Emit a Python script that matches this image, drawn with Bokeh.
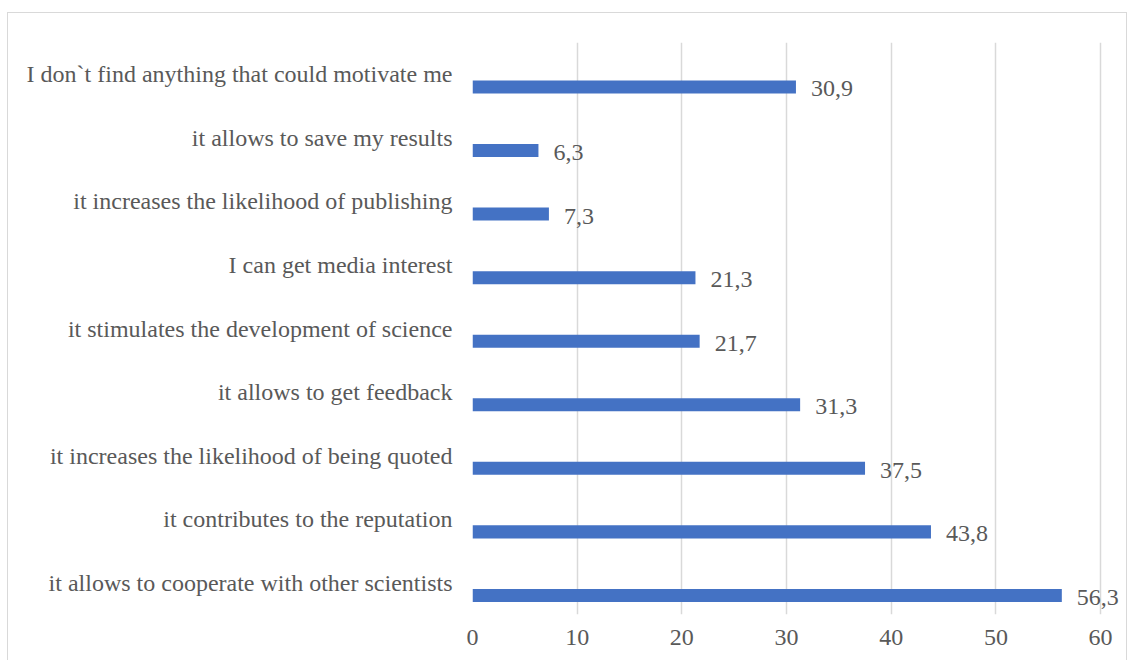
from bokeh.plotting import figure
from bokeh.models import ColumnDataSource, Range1d, FixedTicker, LabelSet
from bokeh.embed import file_html
from bokeh.resources import INLINE

categories = [
    "it allows to cooperate with other scientists",
    "it contributes to the reputation",
    "it increases the likelihood of being quoted",
    "it allows to get feedback",
    "it stimulates the development of science",
    "I can get media interest",
    "it increases the likelihood of publishing",
    "it allows to save my results",
    "I don`t find anything that could motivate me",
]
values = [56.3, 43.8, 37.5, 31.3, 21.7, 21.3, 7.3, 6.3, 30.9]
x_ticks = [0, 10, 20, 30, 40, 50, 60]

FONT = "Liberation Serif"
TXT = "#595959"

n = len(categories)
centers = [i + 0.5 for i in range(n)]
bar_y = [c - 0.2 for c in centers]
labels = [f"{v:.1f}".replace(".", ",") for v in values]

src = ColumnDataSource(dict(y=bar_y, v=values, lab=labels))

p = figure(width=1120, height=648, output_backend="svg", toolbar_location=None,
           x_range=Range1d(0, 62.67), y_range=Range1d(0, n),
           min_border_left=464, min_border_right=0, min_border_top=29, min_border_bottom=47,
           outline_line_color=None, background_fill_color="white", border_fill_color="white")
p.styles = {"border-top": "1px solid #d9d9d9", "border-left": "1px solid #d9d9d9",
            "border-right": "1px solid #d9d9d9",
            "margin-left": "7px", "margin-top": "12px"}

p.hbar(y="y", left=0, right="v", height=0.205, source=src, color="#4472C4", line_color=None)

ls = LabelSet(x="v", y="y", text="lab", source=src, x_offset=15, y_offset=-2,
              text_baseline="middle", text_align="left", text_font=FONT,
              text_font_size="24px", text_color=TXT, level="overlay")
p.add_layout(ls)

p.xaxis.ticker = FixedTicker(ticks=x_ticks)
p.xgrid.ticker = FixedTicker(ticks=x_ticks)
p.xgrid.grid_line_color = "#d9d9d9"
p.xgrid.grid_line_width = 1.5
p.ygrid.grid_line_color = None

p.yaxis.ticker = FixedTicker(ticks=centers)
p.yaxis.major_label_overrides = {c: cat for c, cat in zip(centers, categories)}

for ax in (p.xaxis[0], p.yaxis[0]):
    ax.axis_line_color = None
    ax.major_tick_line_color = None
    ax.minor_tick_line_color = None
    ax.major_tick_out = 0
    ax.major_tick_in = 0
    ax.minor_tick_out = 0
    ax.major_label_text_font = FONT
    ax.major_label_text_font_size = "24px"
    ax.major_label_text_color = TXT
p.yaxis.major_label_standoff = 20
p.xaxis.major_label_standoff = 15

open("out.html", "w").write(file_html(p, INLINE))
